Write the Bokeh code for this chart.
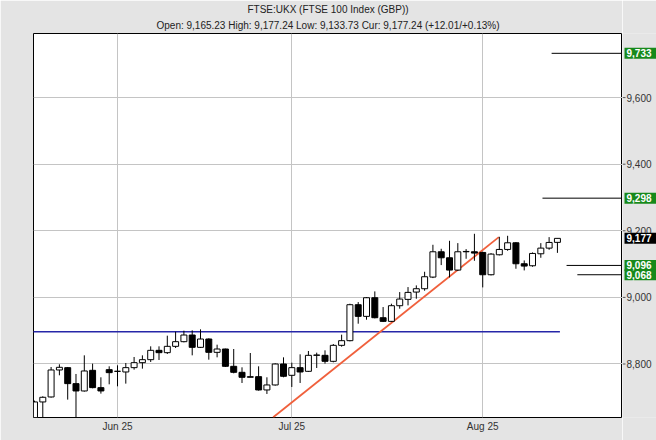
import pandas as pd
from bokeh.plotting import figure
from bokeh.models import ColumnDataSource, Range1d, FixedTicker, Title
from bokeh.core.properties import value
from bokeh.layouts import row
from bokeh.embed import file_html
from bokeh.resources import INLINE

# ---- data -------------------------------------------------------------
dates = [d.strftime("%Y-%m-%d") for d in pd.bdate_range("2025-05-16", "2025-08-14")
         if d.strftime("%Y-%m-%d") != "2025-05-26"]

opens = [8634, 8686, 8701, 8782, 8789, 8741, 8719, 8781, 8729, 8783,
         8778, 8776, 8789, 8804, 8813, 8841, 8834, 8853, 8867, 8887,
         8850, 8875, 8835, 8845, 8793, 8775, 8760, 8762, 8722, 8737,
         8800, 8766, 8789, 8778, 8826, 8826, 8808, 8856, 8870, 8978,
         8943, 8999, 8939, 8928, 8975, 8994, 9016, 9026, 9061, 9137,
         9119, 9082, 9137, 9137, 9135, 9068, 9128, 9144, 9164, 9101,
         9095, 9131, 9148, 9165.23]
highs = [8690, 8703, 8791, 8799, 8791, 8770, 8826, 8801, 8760, 8793,
         8796, 8803, 8821, 8826, 8853, 8853, 8885, 8897, 8900, 8901,
         8904, 8877, 8858, 8846, 8845, 8790, 8833, 8793, 8760, 8802,
         8820, 8804, 8829, 8839, 8834, 8841, 8860, 8888, 8981, 8986,
         9001, 9018, 8971, 8981, 9016, 9031, 9036, 9077, 9158, 9146,
         9170, 9163, 9145, 9191, 9137, 9133, 9182, 9185, 9166, 9111,
         9135, 9163, 9181, 9177.24]
lows = [8600, 8600, 8699, 8766, 8693, 8600, 8717, 8727, 8711, 8739,
        8733, 8741, 8783, 8786, 8806, 8812, 8830, 8848, 8865, 8826,
        8848, 8813, 8820, 8791, 8772, 8743, 8760, 8720, 8710, 8735,
        8760, 8731, 8743, 8776, 8788, 8801, 8805, 8852, 8868, 8921,
        8933, 8937, 8926, 8926, 8966, 8976, 8996, 9020, 9058, 9097,
        9060, 9080, 9116, 9110, 9030, 9066, 9126, 9140, 9086, 9081,
        9092, 9119, 9143, 9133.73]
closes = [8686, 8700, 8782, 8790, 8741, 8719, 8779, 8729, 8719, 8774,
          8778, 8789, 8804, 8813, 8841, 8834, 8853, 8867, 8887, 8850,
          8875, 8835, 8845, 8793, 8775, 8760, 8762, 8722, 8737, 8800,
          8763, 8789, 8776, 8826, 8827, 8808, 8856, 8870, 8978, 8943,
          8999, 8939, 8928, 8975, 8995, 9015, 9026, 9062, 9137, 9119,
          9082, 9137, 9138, 9133, 9068, 9130, 9144, 9164, 9101, 9094,
          9132, 9148, 9165, 9177.24]

month_labels = ["Jun 25", "Jul 25", "Aug 25"]
ytick_vals = [8800, 9000, 9200, 9400, 9600]

support_level = 8897          # blue horizontal line
trend_x = [28.76, 55.94]      # red trend line (candle positions)
trend_y = [8640, 9181]
target_levels = [9733, 9298, 9096, 9068]
target_starts = [62.3, 61.2, 64.1, 65.4]
current_price = 9177.24
change_text = "(+12.01/+0.13%)"
title_text = "FTSE:UKX (FTSE 100 Index (GBP))"

# ---- layout ----------------------------------------------------------
FONT = "Liberation Sans"
BG = "#e4e4e4"
H = 440
MAIN_W, SIDE_W = 622, 34
B_LEFT, B_TOP, B_BOTTOM = 33, 33, 23
X0, X1 = -0.12, 70.84
Y0, Y1 = 8639.3, 9792.5

# ---- derived ---------------------------------------------------------
pos = list(range(len(dates)))
month_ticks = [i for i in range(1, len(dates)) if dates[i][5:7] != dates[i - 1][5:7]]
up = [c >= o for o, c in zip(opens, closes)]
src = ColumnDataSource(dict(
    x=pos, o=opens, h=highs, l=lows, c=closes,
    top=[max(o, c) for o, c in zip(opens, closes)],
    bot=[min(o, c) for o, c in zip(opens, closes)],
    fill=["white" if u else "black" for u in up],
))
yr = Range1d(Y0, Y1)

subtitle = (f"Open: {opens[-1]:,.2f} High: {highs[-1]:,.2f} Low: {lows[-1]:,.2f} "
            f"Cur: {closes[-1]:,.2f} {change_text}")

p = figure(width=MAIN_W, height=H, title=title_text,
           x_range=Range1d(X0, X1), y_range=yr,
           output_backend="svg", toolbar_location=None, y_axis_location=None,
           min_border_left=B_LEFT, min_border_right=0,
           min_border_top=B_TOP, min_border_bottom=B_BOTTOM)
p.border_fill_color = BG
p.background_fill_color = "white"
p.outline_line_color = "black"
p.outline_line_width = 1

p.title.text_font = FONT
p.title.text_font_size = "10px"
p.title.text_font_style = "normal"
p.title.text_color = "#222222"
p.title.align = "center"
p.title.standoff = 1
p.add_layout(Title(text=subtitle, text_font=FONT, text_font_size="10px",
                   text_font_style="normal", text_color="#222222",
                   align="center", standoff=5), "above")

p.xgrid.ticker = FixedTicker(ticks=month_ticks)
p.ygrid.ticker = FixedTicker(ticks=ytick_vals)
p.xgrid.grid_line_color = "#c4c4c4"
p.ygrid.grid_line_color = "#c4c4c4"

ax = p.xaxis[0]
ax.ticker = FixedTicker(ticks=month_ticks)
ax.major_label_overrides = {t: lab for t, lab in zip(month_ticks, month_labels)}
ax.axis_line_color = None
ax.major_tick_line_color = None
ax.minor_tick_line_color = None
ax.major_tick_out = 0
ax.major_tick_in = 0
ax.minor_tick_out = 0
ax.major_label_standoff = 3
ax.major_label_text_font = FONT
ax.major_label_text_font_size = "10px"
ax.major_label_text_color = "#333333"

# support / trend lines
p.segment(x0=[-1], y0=[support_level], x1=[63.3], y1=[support_level],
          line_color="#2626a8", line_width=1.6)
p.line(trend_x, trend_y, line_color="#f0603c", line_width=1.8)

# candles
p.segment(x0="x", y0="h", x1="x", y1="l", source=src, line_color="black", line_width=1)
p.vbar(x="x", width=0.72, top="top", bottom="bot", source=src,
       fill_color="fill", line_color="black", line_width=1)

# target lines
p.segment(x0=target_starts, y0=target_levels, x1=[X1 + 1] * len(target_levels), y1=target_levels,
          line_color="black", line_width=1)

# ---- right-hand price column (shares the y scale) -------------------
side = figure(width=SIDE_W, height=H, x_range=Range1d(0, SIDE_W), y_range=yr,
              output_backend="svg", toolbar_location=None,
              x_axis_location=None, y_axis_location=None,
              min_border_left=0, min_border_right=0,
              min_border_top=B_TOP, min_border_bottom=B_BOTTOM)
side.border_fill_color = BG
side.background_fill_color = BG
side.outline_line_color = None
side.grid.visible = False

side.segment(x0=[0] * len(ytick_vals), y0=ytick_vals, x1=[3] * len(ytick_vals), y1=ytick_vals,
             line_color="#555555", line_width=1)
side.text(x=[4] * len(ytick_vals), y=ytick_vals, text=[f"{v:,.0f}" for v in ytick_vals],
          text_font=value(FONT), text_font_size=value("10px"), text_color="#333333",
          text_baseline="middle", text_align="left")

box_levels = target_levels + [current_price]
box_colors = ["#17891b"] * len(target_levels) + ["black"]
side.rect(x=[(2 + SIDE_W) / 2] * len(box_levels), y=box_levels, width=SIDE_W - 2,
          height=11, height_units="screen", fill_color=box_colors, line_color=None)
side.text(x=[4] * len(box_levels), y=box_levels, text=[f"{v:,.0f}" for v in box_levels],
          text_font=value(FONT), text_font_size=value("10px"), text_font_style="bold",
          text_color="white", text_baseline="middle", text_align="left")

layout = row(p, side, spacing=0)
open("out.html", "w").write(file_html(layout, INLINE))
